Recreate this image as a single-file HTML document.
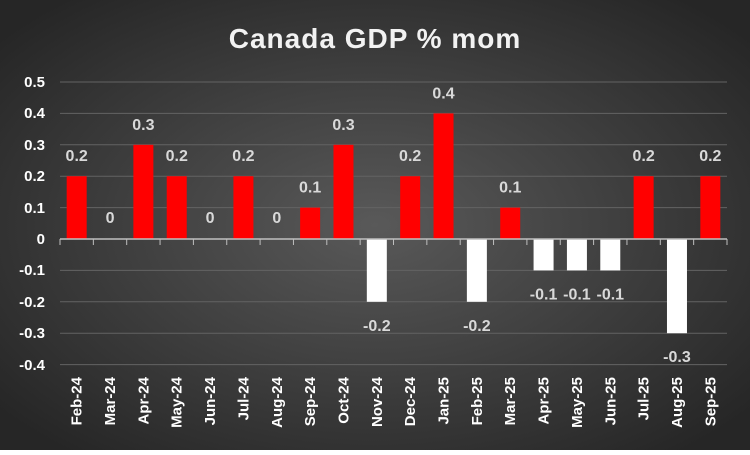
<!DOCTYPE html>
<html><head><meta charset="utf-8"><style>
html,body{margin:0;padding:0;}
body{width:750px;height:450px;overflow:hidden;}
</style></head><body>
<svg width="750" height="450" xmlns="http://www.w3.org/2000/svg" font-family="Liberation Sans, sans-serif">
<defs>
<radialGradient id="bg" cx="50%" cy="50%" r="65%">
<stop offset="0" stop-color="#595959"/>
<stop offset="1" stop-color="#262626"/>
</radialGradient>
</defs>
<rect width="750" height="450" fill="url(#bg)"/>
<text x="375" y="48" text-anchor="middle" font-size="28" font-weight="bold" fill="#f2f2f2" letter-spacing="1">Canada GDP % mom</text>
<g stroke="#636363" stroke-width="1">
<line x1="60" x2="727" y1="82" y2="82"/>
<line x1="60" x2="727" y1="113.4" y2="113.4"/>
<line x1="60" x2="727" y1="144.8" y2="144.8"/>
<line x1="60" x2="727" y1="176.2" y2="176.2"/>
<line x1="60" x2="727" y1="207.6" y2="207.6"/>
<line x1="60" x2="727" y1="270.4" y2="270.4"/>
<line x1="60" x2="727" y1="301.8" y2="301.8"/>
<line x1="60" x2="727" y1="333.2" y2="333.2"/>
<line x1="60" x2="727" y1="364.6" y2="364.6"/>
</g>
<g font-size="15" font-weight="bold" fill="#ffffff" text-anchor="end">
<text x="45" y="87">0.5</text><text x="45" y="118">0.4</text><text x="45" y="150">0.3</text>
<text x="45" y="181">0.2</text><text x="45" y="213">0.1</text><text x="45" y="244">0</text>
<text x="45" y="275">-0.1</text><text x="45" y="307">-0.2</text><text x="45" y="338">-0.3</text>
<text x="45" y="370">-0.4</text>
</g>
<g id="bars"></g>
<g id="lbl" font-size="16" font-weight="bold" fill="#d9d9d9" text-anchor="middle"></g>
<g id="xl" font-size="15" font-weight="bold" fill="#ffffff" text-anchor="end"></g>
<line x1="60" x2="727" y1="239" y2="239" stroke="#bfbfbf" stroke-width="1.5"/>
<g id="ticks" stroke="#bfbfbf" stroke-width="1"></g>
<script>
var v=[.2,0,.3,.2,0,.2,0,.1,.3,-.2,.2,.4,-.2,.1,-.1,-.1,-.1,.2,-.3,.2];
var n=["Feb-24","Mar-24","Apr-24","May-24","Jun-24","Jul-24","Aug-24","Sep-24","Oct-24","Nov-24","Dec-24","Jan-25","Feb-25","Mar-25","Apr-25","May-25","Jun-25","Jul-25","Aug-25","Sep-25"];
var ns="http://www.w3.org/2000/svg",s=667/20,z=239,u=314;
function el(t,a,p,tx){var e=document.createElementNS(ns,t);for(var k in a)e.setAttribute(k,a[k]);if(tx!=null)e.textContent=tx;document.getElementById(p).appendChild(e);}
for(var i=0;i<=20;i++){var x=60+i*s;el("line",{x1:x,x2:x,y1:239,y2:245},"ticks");}
for(var i=0;i<20;i++){var c=60+s*(i+.5),h=v[i]*u;
if(v[i]>0)el("rect",{x:c-10,y:z-h,width:20,height:h,fill:"#ff0000"},"bars");
else if(v[i]<0)el("rect",{x:c-10,y:z,width:20,height:-h,fill:"#ffffff"},"bars");
var ly=v[i]>0?z-h-15:(v[i]<0?z-h+29:z-16);
el("text",{x:c,y:ly},"lbl",(v[i]<0?"-":"")+(Math.abs(v[i])===0?"0":String(Math.abs(v[i]))));
el("text",{x:0,y:0,transform:"translate("+(c+5)+",377) rotate(-90)"},"xl",n[i]);}
</script>
</svg>
</body></html>
